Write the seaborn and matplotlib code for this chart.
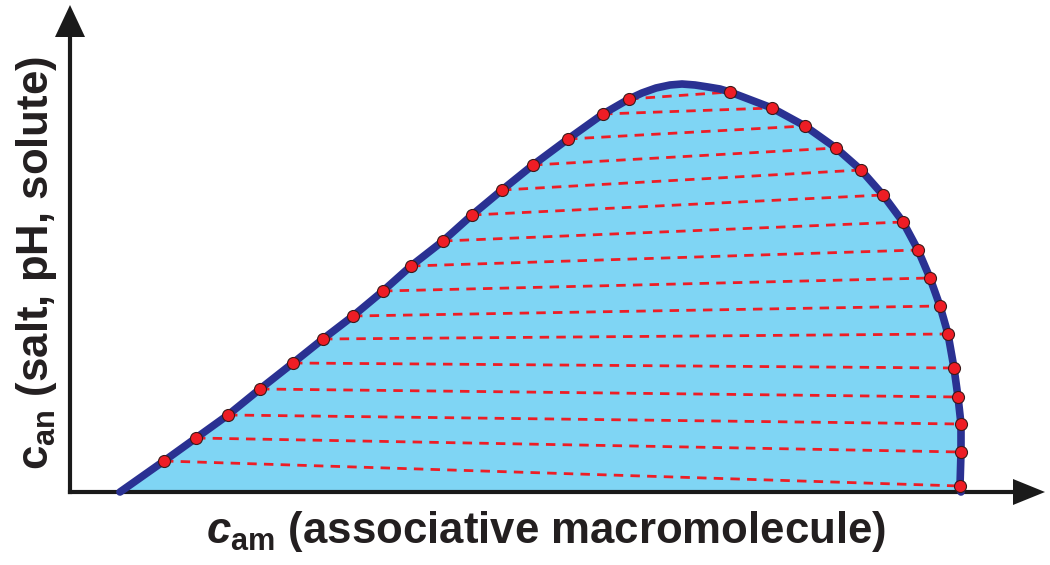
"""
Schematic phase diagram: binodal of an associative macromolecule
with tie lines between coexisting phases.
"""

import numpy as np
import pandas as pd
import matplotlib
matplotlib.use("Agg")
import matplotlib.pyplot as plt
import seaborn as sns

sns.set_theme(style="white")
plt.rcParams["font.family"] = ["Liberation Sans", "DejaVu Sans"]
plt.rcParams["mathtext.fontset"] = "custom"
plt.rcParams["mathtext.rm"] = "Liberation Sans:bold"
plt.rcParams["mathtext.it"] = "Liberation Sans:italic:bold"
plt.rcParams["mathtext.bf"] = "Liberation Sans:bold"

# ── data (arbitrary units) ─────────────────────────────────────────────────────

# dilute branch of the binodal, bottom -> top
left_cam = [0.94, 1.26, 1.58, 1.90, 2.23, 2.53, 2.83, 3.13,
            3.41, 3.73, 4.02, 4.32, 4.63, 4.98, 5.33, 5.59]
left_can = [0.31, 0.54, 0.77, 1.03, 1.29, 1.53, 1.76, 2.01,
            2.26, 2.51, 2.77, 3.02, 3.27, 3.53, 3.78, 3.93]

# dense branch of the binodal, bottom -> top (paired with left by index)
right_cam = [8.90, 8.91, 8.91, 8.88, 8.84, 8.78, 8.70, 8.60,
             8.48, 8.33, 8.13, 7.91, 7.66, 7.35, 7.02, 6.60]
right_can = [0.06, 0.40, 0.68, 0.95, 1.24, 1.58, 1.86, 2.14,
             2.42, 2.70, 2.97, 3.22, 3.44, 3.66, 3.84, 4.00]

# extra points: foot on the axis and the rounded top
start_cam, start_can = 0.50, 0.00
end_cam, end_can = 8.91, 0.00
peak_cam = [5.72, 5.86, 6.00, 6.12, 6.25, 6.38, 6.50]
peak_can = [3.99, 4.04, 4.07, 4.08, 4.07, 4.05, 4.03]

X_LABEL = r"$c_{\mathrm{am}}$ (associative macromolecule)"
Y_LABEL = r"$\mathrm{c}_{\mathrm{an}}$ (salt, pH, solute)"

FILL = "#7fd5f4"
CURVE = "#2a3192"
DOT = "#ee1d25"
AXIS = "#1a1a1a"
TEXT = "#231f20"

# ── build curve ────────────────────────────────────────────────────────────────

curve = pd.DataFrame({
    "cam": [start_cam] + left_cam + peak_cam + right_cam[::-1] + [end_cam],
    "can": [start_can] + left_can + peak_can + right_can[::-1] + [end_can],
})
dots = pd.DataFrame({
    "cam": left_cam + right_cam,
    "can": left_can + right_can,
})

# ── plot ───────────────────────────────────────────────────────────────────────

fig = plt.figure(figsize=(10.5, 5.65), dpi=100)
ax = fig.add_axes([0, 0, 1, 1])
ax.set_xlim(-0.70, 9.80)
ax.set_ylim(-0.73, 4.92)
ax.set_axis_off()

# two-phase region
ax.fill(curve["cam"], curve["can"], color=FILL, lw=0, zorder=1)

# tie lines
for x0, y0, x1, y1 in zip(left_cam, left_can, right_cam, right_can):
    ax.plot([x0, x1], [y0, y1], color=DOT, lw=2.0, dashes=(3.4, 2.6), zorder=2)

# axes with arrow heads
ax.plot([0, 9.45], [0, 0], color=AXIS, lw=3, solid_capstyle="projecting", zorder=3)
ax.plot([0, 0], [0, 4.57], color=AXIS, lw=3, solid_capstyle="projecting", zorder=3)
ax.fill([9.43, 9.43, 9.75], [-0.13, 0.13, 0.0], color=AXIS, lw=0, zorder=3)
ax.fill([-0.15, 0.15, 0.0], [4.55, 4.55, 4.87], color=AXIS, lw=0, zorder=3)

# binodal
sns.lineplot(data=curve, x="cam", y="can", sort=False, estimator=None,
             color=CURVE, lw=5.5, ax=ax, zorder=4)
sns.scatterplot(data=dots, x="cam", y="can", color=DOT, s=75,
                edgecolor="#3b1a1a", linewidth=0.8, ax=ax, zorder=5)

ax.text(1.36, -0.51, X_LABEL, fontsize=31.5, fontweight="bold", color=TEXT,
        ha="left", va="baseline")
ax.text(-0.22, 0.22, Y_LABEL, fontsize=31.5, fontweight="bold", color=TEXT,
        rotation=90, rotation_mode="anchor", ha="left", va="baseline")

fig.savefig("out.png", dpi=100)
plt.close(fig)
